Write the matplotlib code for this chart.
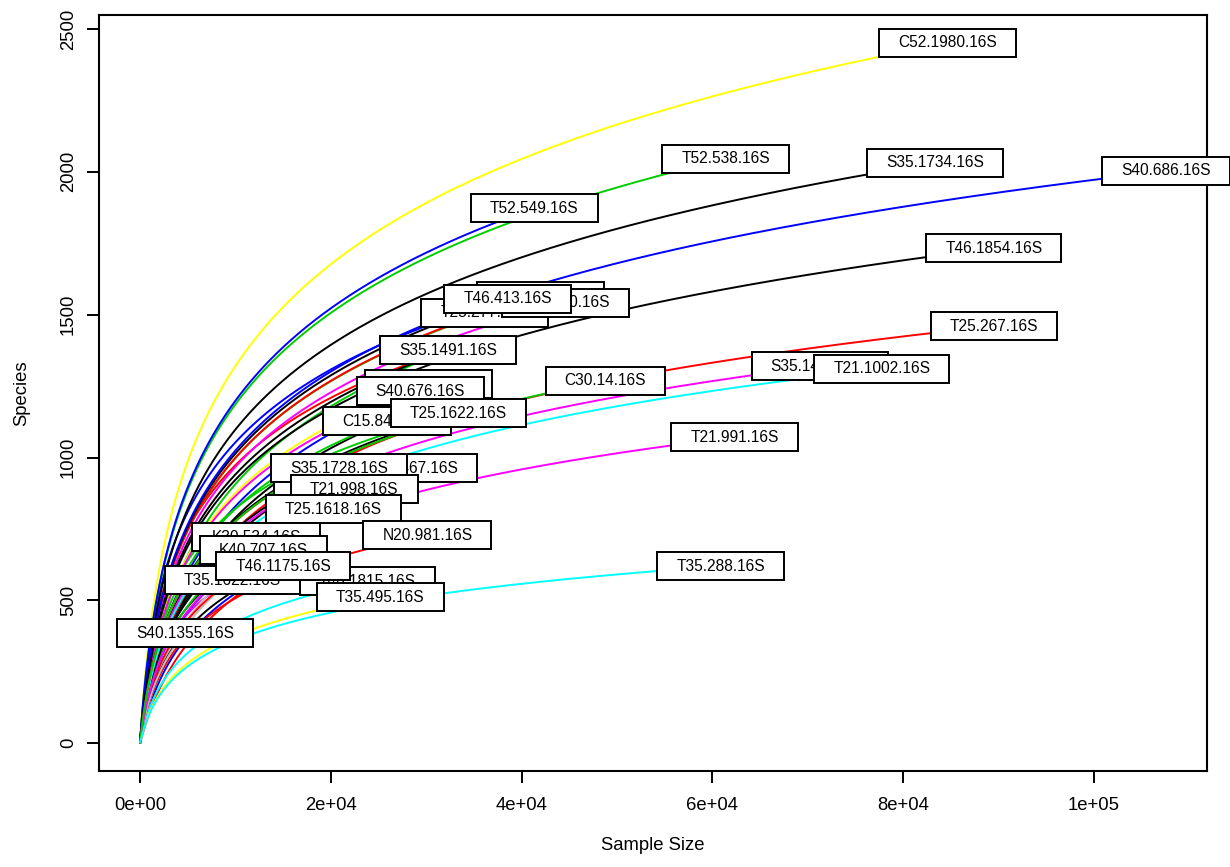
import numpy as np
import matplotlib
matplotlib.use("Agg")
import matplotlib.pyplot as plt
from matplotlib.patches import Rectangle

plt.rcParams['font.family'] = ['Liberation Sans', 'DejaVu Sans']

# ---- data (drawing order: first drawn = bottom) ----
sample_names = [
    "T35.12.16S", "S35.14.16S", "C15.81.16S", "T46.11.16S", "K30.52.16S",
    "T25.16.16S", "N20.98.16S", "K40.70.16S", "T35.16.16S", "T46.18.16S",
    "S40.13.16S", "C52.19.16S", "T21.99.16S", "S35.17.16S", "T52.53.16S",
    "T25.26.16S", "S40.68.16S",
    "S40.672.16S", "C15.842.16S", "S40.676.16S", "T25.1622.16S", "S40.683.16S",
    "T25.277.16S", "T25.270.16S", "T46.413.16S", "S35.1491.16S", "S40.1467.16S",
    "S35.1728.16S", "T21.993.16S", "T21.998.16S", "T25.1618.16S", "N20.981.16S",
    "K30.534.16S", "K40.707.16S", "T35.1622.16S", "T46.1815.16S", "T35.495.16S",
    "T46.1175.16S", "S40.1355.16S", "S35.1492.16S", "T21.1002.16S", "C52.1980.16S",
    "T52.538.16S", "S35.1734.16S", "S40.686.16S", "T52.549.16S", "T46.1854.16S",
    "T25.267.16S", "T21.991.16S", "C30.14.16S", "T35.288.16S",
]
sample_reads = [
    38510, 32320, 32320, 29380, 25920,
    22460, 20250, 12170, 9650, 15000,
    12910, 15000, 20880, 33370, 33370,
    9650, 12910,
    30220, 25920, 29380, 33370, 41970,
    36100, 44600, 38510, 32320, 28230,
    20880, 20670, 22460, 20250, 30120,
    12170, 12910, 9650, 23820, 25180,
    15000, 4720, 71250, 77750, 84680,
    61380, 83310, 107550, 41340, 89510,
    89510, 62330, 48790, 60860,
]
sample_species = [
    1555, 1376, 1376, 1232, 1127,
    889, 819, 721, 571, 620,
    676, 620, 963, 1155, 1155,
    571, 676,
    1257, 1127, 1232, 1155, 1565,
    1506, 1541, 1555, 1376, 963,
    963, 865, 889, 819, 728,
    721, 676, 571, 567, 511,
    620, 385, 1320, 1310, 2451,
    2045, 2031, 2003, 1873, 1733,
    1460, 1071, 1268, 620,
]
curve_colors = [
    "blue", "red", "green3", "blue", "black",
    "black", "gray", "green3", "magenta", "blue",
    "gray", "red", "black", "green3", "red",
    "gray", "black",
    "yellow", "green3", "magenta", "black", "green3",
    "red", "magenta", "black", "black", "black",
    "black", "gray", "black", "green3", "red",
    "black", "blue", "red", "cyan", "yellow",
    "black", "gray", "magenta", "cyan", "yellow",
    "green3", "black", "blue", "blue", "black",
    "red", "magenta", "green3", "cyan",
]
curve_bend = [
    700, 700, 1400, 1500, 1500,
    700, 1500, 600, 500, 1600,
    1600, 2500, 1500, 600, 1500,
    1500, 700,
    1000, 1000, 1000, 1000, 1000,
    1000, 1000, 1000, 1000, 1000,
    1000, 1000, 1000, 1000, 1000,
    1000, 1000, 1000, 1000, 1000,
    1000, 1000, 1000, 1000, 1000,
    1000, 1000, 1000, 1000, 1000,
    1000, 1000, 1000, 1000,
]
x_ticks = [0, 20000, 40000, 60000, 80000, 100000]
x_tick_labels = ["0e+00", "2e+04", "4e+04", "6e+04", "8e+04", "1e+05"]
y_ticks = [0, 500, 1000, 1500, 2000, 2500]
y_tick_labels = ["0", "500", "1000", "1500", "2000", "2500"]

R_COLS = {"black": "#000000", "red": "#FF0000", "green3": "#00CD00", "blue": "#0000FF",
          "cyan": "#00FFFF", "magenta": "#FF00FF", "yellow": "#FFFF00", "gray": "#BEBEBE"}

W, H = 1230, 867
fig = plt.figure(figsize=(W / 100, H / 100), dpi=100)
ax = fig.add_axes([99 / W, 1 - 771 / H, (1207 - 99) / W, (771 - 15) / H])

for N, S, col, b in zip(sample_reads, sample_species, curve_colors, curve_bend):
    n = np.linspace(0, N, 500)
    a = S / np.log1p(N / b)
    ax.plot(n, a * np.log1p(n / b), color=R_COLS[col], lw=1.4, solid_capstyle='butt', zorder=3)

maxN, maxS = max(sample_reads), max(sample_species)
ax.set_xlim(1 - 0.04 * (maxN - 1), maxN + 0.04 * (maxN - 1))
ax.set_ylim(1 - 0.04 * (maxS - 1), maxS + 0.04 * (maxS - 1))

ax.set_xticks(x_ticks)
ax.set_xticklabels(x_tick_labels, fontsize=13.3)
ax.set_yticks(y_ticks)
ax.set_yticklabels(y_tick_labels, fontsize=13.3, rotation=90, va='center', ha='right')
ax.tick_params(axis='x', direction='out', length=8.5, width=1.4, pad=10)
ax.tick_params(axis='y', direction='out', length=8.5, width=1.4, pad=7.5)
for sp in ax.spines.values():
    sp.set_linewidth(1.5)

fig.text(653 / W, 1 - 845 / H, "Sample Size", ha='center', va='center', fontsize=13.3)
fig.text(22 / W, 1 - 393 / H, "Species", ha='center', va='center', rotation=90, fontsize=13.3)

# boxed labels (ordilabel-style)
fig.canvas.draw()
r = fig.canvas.get_renderer()
padx, box_h = 19, 28
inv = ax.transData.inverted()
z = 10
for name, N, S in zip(sample_names, sample_reads, sample_species):
    t = ax.text(N, S, name, ha='center', va='center', fontsize=11.2, zorder=z + 1, clip_on=False)
    bb = t.get_window_extent(renderer=r)
    cx, cy = ax.transData.transform((N, S))
    w = bb.width + 2 * padx
    x0, y0 = inv.transform((cx - w / 2, cy - box_h / 2))
    x1, y1 = inv.transform((cx + w / 2, cy + box_h / 2))
    rect = Rectangle((x0, y0), x1 - x0, y1 - y0, facecolor='white', edgecolor='black',
                     lw=1.4, zorder=z, clip_on=False)
    ax.add_patch(rect)
    z += 2

fig.savefig("out.png", dpi=100)
